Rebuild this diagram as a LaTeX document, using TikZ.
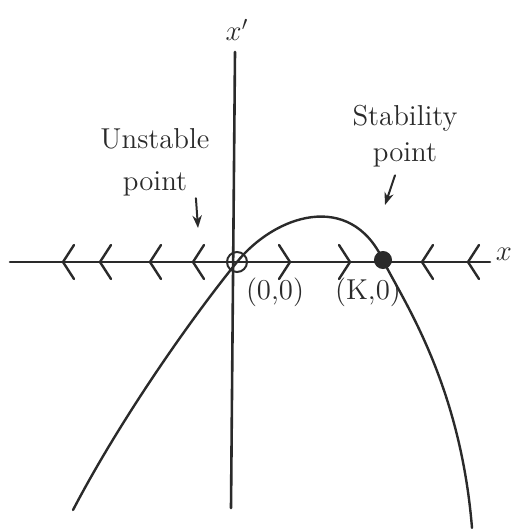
\documentclass[tikz,border=0pt]{standalone}
\usepackage{tikz}
\usetikzlibrary{arrows.meta,calc,positioning}
\definecolor{pen}{HTML}{2A2A2A}
\tikzset{
  sketch/.style={draw=pen, line width=1.3pt, line cap=round, line join=round},
  axisline/.style={sketch},
  flowmark/.style={sketch, line width=1.2pt},
  curve/.style={sketch, line width=1.2pt},
  pointer/.style={-{Stealth[length=2.2mm]}, sketch, line width=1pt},
  tag/.style={font=\Large, text=pen, inner sep=1pt},
  note/.style={font=\Large, text=pen, align=center, inner sep=1pt},
  fixpt/.style={circle, draw=pen, line width=1pt, minimum size=10pt, inner sep=0pt}
}

\begin{document}
\begin{tikzpicture}[x=0.5pt, y=-0.5pt]
  \useasboundingbox (0,0) rectangle (515,529);
  % axes
  \coordinate (xl) at (10,262);
  \coordinate (xr) at (490,262);
  \coordinate (yb) at (231,508);
  \coordinate (yt) at (235,52);
  \draw[axisline] (xl) -- (xr);
  \draw[axisline] (yb) -- (yt);
  \node[tag] (xlab) at (504,254) {$x$};
  \node[tag] (ylab) at (237,30) {$x'$};
  % fixed points
  \node[fixpt] (o) at (237,262) {};
  \node[fixpt, fill=pen, minimum size=8pt] (k) at (383,260) {};
  \coordinate (lend) at (73,510);
  \coordinate (rend) at (472,528);
  % the curve x' = f(x)
  \draw[curve] (lend) .. controls (120,420) and (190,320) .. (o.center)
    .. controls (275,215) and (350,190) .. (k.center)
    .. controls (400,296) and (460,380) .. (rend);
  \node[tag] (olab) at (275,292) {(0,0)};
  \node[tag] (klab) at (368,292) {(K,0)};
  % flow direction on the x axis
  \foreach \px in {63,100,150,193,422,468}
    \draw[flowmark] (\px+11,245) -- (\px,262) -- (\px+11,279);
  \foreach \px in {290,350}
    \draw[flowmark] (\px-11,245) -- (\px,262) -- (\px-11,279);
  % notes
  \node[note] (unst) at (155,162) {Unstable\\[3pt]point};
  \node[note] (stab) at (405,136) {Stability\\point};
  \draw[pointer] ($(unst.south east)+(-16,0)$) -- ($(o)+(-39,-34)$);
  \draw[pointer] ($(stab.south)+(-10,6)$) -- ($(k)+(2,-55)$);
\end{tikzpicture}
\end{document}
